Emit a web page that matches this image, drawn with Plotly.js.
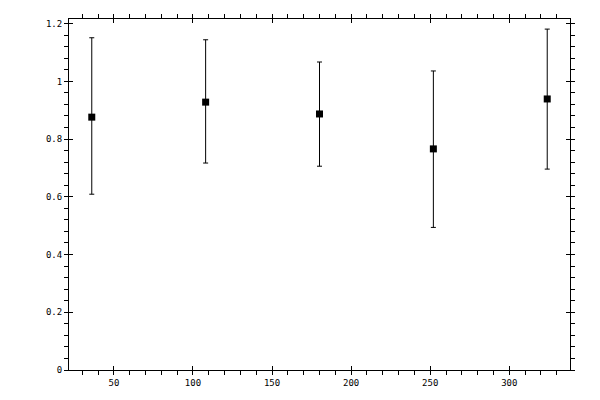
<!DOCTYPE html>
<html>
<head>
<meta charset="utf-8">
<script src="https://cdn.plot.ly/plotly-3.0.1.min.js"></script>
<style>
  html, body { margin: 0; padding: 0; background: #fff; }
  #chart { width: 600px; height: 400px; }
</style>
</head>
<body>
<div id="chart"></div>
<script>
// ── Dados ──────────────────────────────────────────────────
const xValues   = [36, 108, 180, 252, 324];
const yValues   = [0.876, 0.928, 0.887, 0.766, 0.939];
const yUpper    = [1.151, 1.144, 1.067, 1.036, 1.181];
const yLower    = [0.609, 0.717, 0.706, 0.494, 0.696];

const xTicks = [50, 100, 150, 200, 250, 300];
const yTicks = [0, 0.2, 0.4, 0.6, 0.8, 1, 1.2];
const yTickText = ['0', '0.2', '0.4', '0.6', '0.8', '1', '1.2'];

const X_RANGE = [21.6, 338.4];
const Y_RANGE = [0, 1.216];

const errPlus  = yUpper.map((u, i) => u - yValues[i]);
const errMinus = yValues.map((v, i) => v - yLower[i]);

const font = { family: 'DejaVu Sans Mono, monospace', size: 9, color: '#000' };

const points = {
  x: xValues, y: yValues,
  type: 'scatter', mode: 'markers',
  marker: { symbol: 'square', size: 7, color: '#000' },
  error_y: {
    type: 'data', symmetric: false,
    array: errPlus, arrayminus: errMinus,
    color: '#000', thickness: 1, width: 2.5,
  },
  hoverinfo: 'skip',
};

// traço vazio só para o par de eixos sobrepostos (ticks para dentro)
const ghost = { x: [], y: [], type: 'scatter', xaxis: 'x2', yaxis: 'y2', hoverinfo: 'skip' };

const outerX = {
  range: X_RANGE, showgrid: false, zeroline: false,
  showline: true, linecolor: '#000', linewidth: 1, mirror: 'allticks',
  ticks: 'outside', ticklen: 4, tickwidth: 1, tickcolor: '#000',
  tickvals: xTicks, ticktext: xTicks.map(String),
  minor: { ticks: 'outside', ticklen: 4, tickwidth: 1, tickcolor: '#000', dtick: 10, tick0: 0, showgrid: false },
  tickfont: font,
};

const outerY = {
  range: Y_RANGE, showgrid: false, zeroline: false,
  showline: true, linecolor: '#000', linewidth: 1, mirror: 'allticks',
  ticks: 'outside', ticklen: 4, tickwidth: 1, tickcolor: '#000',
  tickvals: yTicks, ticktext: yTickText,
  minor: { ticks: 'outside', ticklen: 4, tickwidth: 1, tickcolor: '#000', dtick: 0.04, tick0: 0, showgrid: false },
  tickfont: font,
};

const innerX = {
  range: X_RANGE, overlaying: 'x', anchor: 'y2',
  showgrid: false, zeroline: false, showline: false, showticklabels: false,
  ticks: 'inside', ticklen: 4, tickwidth: 1, tickcolor: '#000', mirror: 'ticks',
  tickvals: xTicks,
};

const innerY = {
  range: Y_RANGE, overlaying: 'y', anchor: 'x2',
  showgrid: false, zeroline: false, showline: false, showticklabels: false,
  ticks: 'inside', ticklen: 4, tickwidth: 1, tickcolor: '#000', mirror: 'ticks',
  tickvals: yTicks,
};

const layout = {
  width: 600, height: 400,
  margin: { l: 69, r: 30, t: 19, b: 30 },
  paper_bgcolor: '#fff', plot_bgcolor: '#fff',
  showlegend: false,
  font,
  xaxis: outerX, yaxis: outerY,
  xaxis2: innerX, yaxis2: innerY,
};

Plotly.newPlot('chart', [points, ghost], layout, { displayModeBar: false, staticPlot: true });
</script>
</body>
</html>
